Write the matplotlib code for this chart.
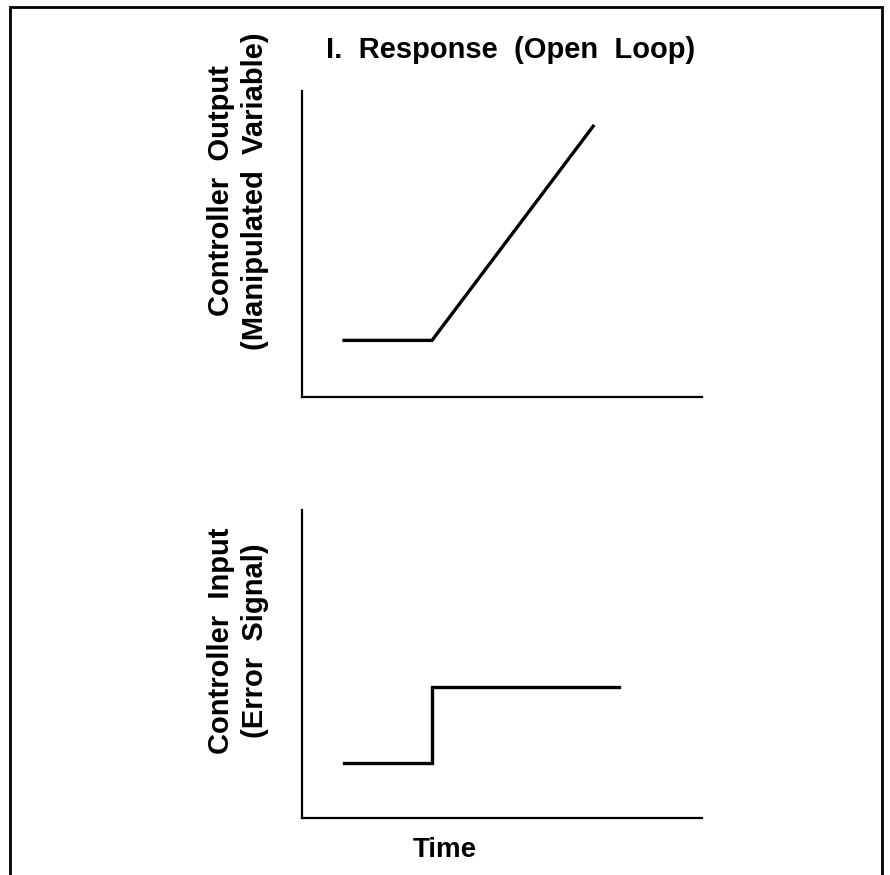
import matplotlib
matplotlib.use("Agg")
import matplotlib.pyplot as plt
from matplotlib.patches import Rectangle

# Top panel: controller output (open loop response)
out_time = [1.05, 3.25, 7.28]
out_value = [1.85, 1.85, 8.85]

# Bottom panel: controller input (step in error signal)
in_time = [1.05, 3.25, 3.25, 7.93]
in_value = [1.8, 1.8, 4.25, 4.25]

title = "I.  Response  (Open  Loop)"
top_label = "Controller  Output\n(Manipulated  Variable)"
bottom_label = "Controller  Input\n(Error  Signal)"
xlabel = "Time"

W, H = 890, 875
fig = plt.figure(figsize=(W / 100, H / 100), dpi=100)
plt.rcParams["font.family"] = ["Liberation Sans", "DejaVu Sans"]


def px_axes(x0, y0, x1, y1):
    # pixel box (top-left origin) -> figure fraction axes
    return fig.add_axes([x0 / W, 1 - y1 / H, (x1 - x0) / W, (y1 - y0) / H])


ax1 = px_axes(302, 91, 702, 397)
ax2 = px_axes(302, 510, 702, 818)

for ax in (ax1, ax2):
    ax.set_xlim(0, 10)
    ax.set_ylim(0, 10)
    ax.set_xticks([])
    ax.set_yticks([])
    ax.spines["top"].set_visible(False)
    ax.spines["right"].set_visible(False)
    for s in ("left", "bottom"):
        ax.spines[s].set_linewidth(1.6)
    ax.patch.set_alpha(0)

ax1.plot(out_time, out_value, color="black", lw=2.4, solid_joinstyle="miter")
ax2.plot(in_time, in_value, color="black", lw=2.4, solid_joinstyle="miter")

# outer frame (open at the bottom edge of the image)
fig.patches.append(Rectangle((10 / W, -0.05), (882 - 10) / W, 1.05 - 7 / H,
                             transform=fig.transFigure, fill=False,
                             edgecolor="black", lw=2.0))

fs = 21
fig.text(511 / W, 1 - 50 / H, title, ha="center", va="center",
         fontsize=fs, fontweight="bold")
fig.text(238 / W, 1 - 191 / H, top_label, ha="center", va="center",
         rotation=90, multialignment="center", fontsize=fs,
         fontweight="bold", linespacing=1.25)
fig.text(238 / W, 1 - 641 / H, bottom_label, ha="center", va="center",
         rotation=90, multialignment="center", fontsize=fs,
         fontweight="bold", linespacing=1.25)
fig.text(445 / W, 1 - 850 / H, xlabel, ha="center", va="center",
         fontsize=20, fontweight="bold")

fig.savefig("out.png", dpi=100, facecolor="white")
